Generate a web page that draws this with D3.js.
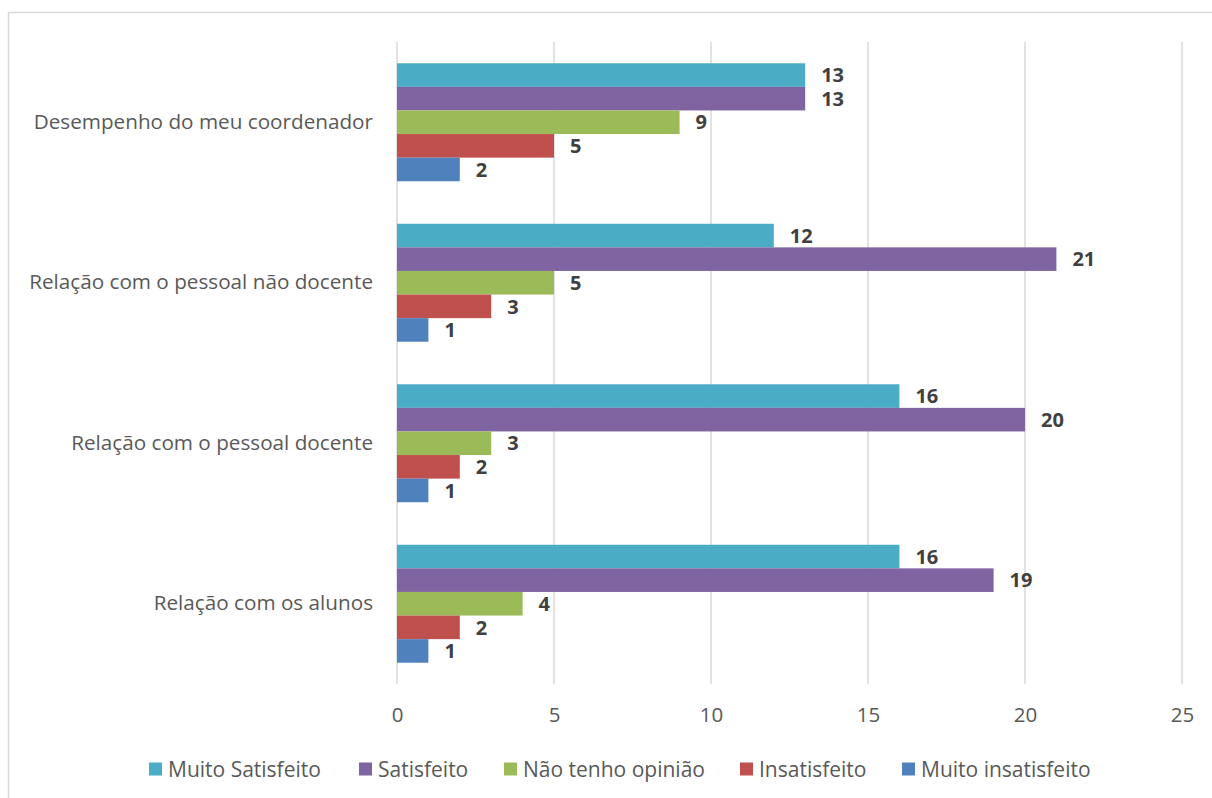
<!DOCTYPE html>
<html>
<head>
<meta charset="utf-8">
<script src="https://cdn.jsdelivr.net/npm/d3@7"></script>
<style>
  html, body { margin: 0; padding: 0; background: #fff; }
  svg { display: block; }
</style>
</head>
<body>
<script>
// Survey results: satisfaction levels per aspect (counts of respondents)
const categories = [
  "Desempenho do meu coordenador",
  "Relação com o pessoal não docente",
  "Relação com o pessoal docente",
  "Relação com os alunos"
];
const seriesNames = ["Muito Satisfeito", "Satisfeito", "Não tenho opinião", "Insatisfeito", "Muito insatisfeito"];
const muitoSatisfeito   = [13, 12, 16, 16];
const satisfeito        = [13, 21, 20, 19];
const naoTenhoOpiniao   = [9, 5, 3, 4];
const insatisfeito      = [5, 3, 2, 2];
const muitoInsatisfeito = [2, 1, 1, 1];
const xTicks = [0, 5, 10, 15, 20, 25];

const seriesValues = [muitoSatisfeito, satisfeito, naoTenhoOpiniao, insatisfeito, muitoInsatisfeito];
const colors = ["#4BACC6", "#8064A2", "#9BBB59", "#C0504D", "#4F81BD"];

const W = 1212, H = 798;
const FONT = "'Open Sans', 'Noto Sans', sans-serif";
const plot = { left: 397, right: 1182, top: 42, bottom: 684 };

const svg = d3.select("body").append("svg").attr("width", W).attr("height", H);

// chart frame
svg.append("rect")
  .attr("x", 8.5).attr("y", 12.5).attr("width", W + 10).attr("height", H + 10)
  .attr("fill", "#fff").attr("stroke", "#d9d9d9").attr("stroke-width", 1.5);

const x = d3.scaleLinear().domain([0, 25]).range([plot.left, plot.right]);
const y = d3.scaleBand().domain(categories).range([plot.top, plot.bottom]).paddingInner(0.265).paddingOuter(0.1325);
const ySub = d3.scaleBand().domain(seriesNames).range([0, y.bandwidth()]);

// vertical gridlines
svg.append("g").selectAll("line").data(xTicks).join("line")
  .attr("x1", d => x(d)).attr("x2", d => x(d))
  .attr("y1", plot.top).attr("y2", plot.bottom)
  .attr("stroke", "#d9d9d9").attr("stroke-width", 1.5);

// x axis tick labels
const xAxis = d3.axisBottom(x).tickValues(xTicks).tickSize(0).tickPadding(0);
const gx = svg.append("g").attr("transform", `translate(0, ${plot.bottom + 23})`).call(xAxis);
gx.select(".domain").remove();
gx.selectAll("text").attr("dy", "0.71em")
  .attr("font-family", FONT).attr("font-size", 20.5).attr("fill", "#595959");

// category labels
const yAxis = d3.axisLeft(y).tickSize(0).tickPadding(24);
const gy = svg.append("g").attr("transform", `translate(${plot.left}, 0)`).call(yAxis);
gy.select(".domain").remove();
gy.selectAll("text").attr("font-family", FONT).attr("font-size", 20.7).attr("fill", "#595959");

// bars + value labels
const flat = [];
categories.forEach((c, ci) => {
  seriesNames.forEach((s, si) => {
    flat.push({ cat: c, series: s, si, value: seriesValues[si][ci] });
  });
});

const bars = svg.append("g");
bars.selectAll("rect").data(flat).join("rect")
  .attr("x", x(0))
  .attr("y", d => y(d.cat) + ySub(d.series))
  .attr("width", d => x(d.value) - x(0))
  .attr("height", ySub.bandwidth())
  .attr("fill", d => colors[d.si]);

bars.selectAll("text").data(flat).join("text")
  .attr("x", d => x(d.value) + 16)
  .attr("y", d => y(d.cat) + ySub(d.series) + ySub.bandwidth() / 2)
  .attr("dy", "0.36em")
  .attr("font-family", FONT).attr("font-size", 20).attr("font-weight", "bold")
  .attr("fill", "#404040")
  .text(d => d.value);

// legend
const legendX = [149, 359, 504, 740, 902];
const legendY = 769;
const lg = svg.append("g");
seriesNames.forEach((s, i) => {
  lg.append("rect").attr("x", legendX[i]).attr("y", legendY - 6.5).attr("width", 13).attr("height", 13).attr("fill", colors[i]);
  lg.append("text").attr("x", legendX[i] + 19).attr("y", legendY).attr("dy", "0.36em")
    .attr("font-family", FONT).attr("font-size", 21).attr("fill", "#595959").text(s);
});
</script>
</body>
</html>
